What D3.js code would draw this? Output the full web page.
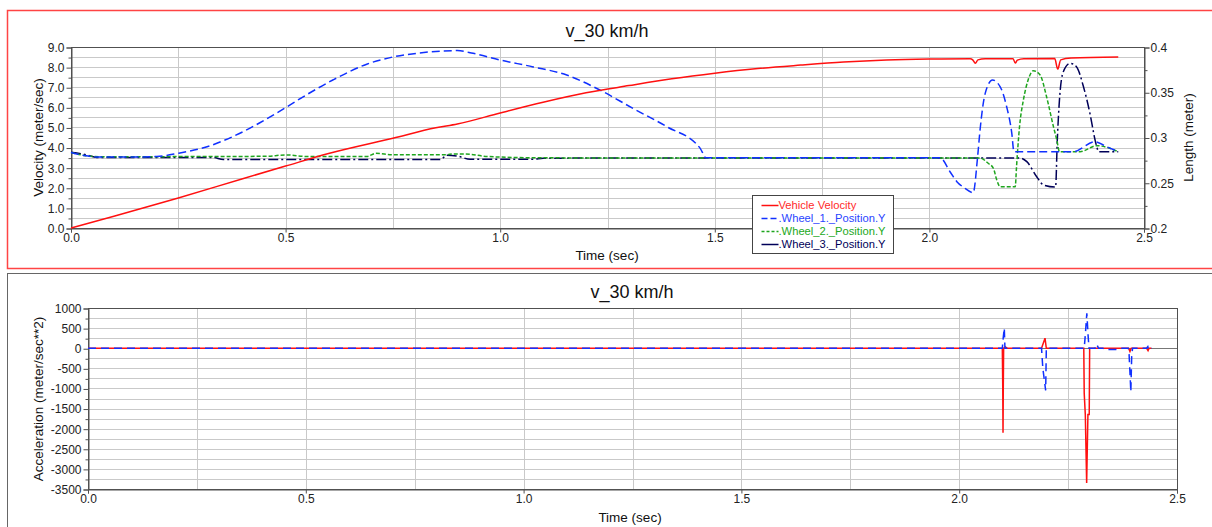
<!DOCTYPE html>
<html>
<head>
<meta charset="utf-8">
<script src="https://cdn.jsdelivr.net/npm/d3@7"></script>
<style>
  body { margin: 0; background: #fff; }
  svg { display: block; font-family: "Liberation Sans", Arial, sans-serif; }
</style>
</head>
<body>
<svg id="chart"></svg>
<script>
// ---- tick labels ----
const timeTicks = [0, 0.5, 1.0, 1.5, 2.0, 2.5];
const velocityTicks = [0, 1, 2, 3, 4, 5, 6, 7, 8, 9];
const lengthTicks = [0.2, 0.25, 0.3, 0.35, 0.4];
const accelTicks = [1000, 500, 0, -500, -1000, -1500, -2000, -2500, -3000, -3500];

// ---- top chart: [time (sec), value] ----
const vehicleVelocity = [
  [0, 0], [0.1, 0.58], [0.25, 1.49], [0.4, 2.45], [0.5, 3.08], [0.6, 3.7], [0.75, 4.46],
  [0.85, 4.98], [0.9, 5.17], [1.0, 5.72], [1.1, 6.25], [1.2, 6.72], [1.3, 7.08], [1.4, 7.42],
  [1.5, 7.7], [1.6, 7.93], [1.7, 8.1], [1.8, 8.25], [1.9, 8.35], [2.0, 8.4], [2.095, 8.42],
  [2.101, 8.36], [2.107, 8.19], [2.113, 8.36], [2.13, 8.42], [2.195, 8.42], [2.2, 8.2],
  [2.205, 8.35], [2.22, 8.42], [2.292, 8.43], [2.299, 7.9], [2.306, 8.36], [2.33, 8.45],
  [2.44, 8.5]
];
const wheel1Y = [
  [0, 0.2835], [0.03, 0.2802], [0.06, 0.2785], [0.15, 0.2785], [0.2, 0.279], [0.25, 0.2826],
  [0.317, 0.2898], [0.377, 0.301], [0.439, 0.316], [0.5, 0.333], [0.534, 0.343], [0.61, 0.3635],
  [0.689, 0.381], [0.75, 0.389], [0.805, 0.393], [0.9, 0.396], [0.937, 0.393], [1.0, 0.3856],
  [1.077, 0.378], [1.155, 0.369], [1.232, 0.3525], [1.31, 0.332], [1.388, 0.312], [1.466, 0.288],
  [1.48, 0.2775], [2.025, 0.2775], [2.048, 0.2622], [2.064, 0.2512], [2.083, 0.2439],
  [2.102, 0.239], [2.112, 0.277], [2.118, 0.3083], [2.13, 0.3488], [2.147, 0.3635],
  [2.165, 0.356], [2.18, 0.334], [2.192, 0.3046], [2.197, 0.2843], [2.335, 0.2843],
  [2.386, 0.2953], [2.413, 0.2898], [2.44, 0.2843]
];
const wheel2Y = [
  [0, 0.2835], [0.03, 0.2802], [0.068, 0.2788], [0.45, 0.2792], [0.503, 0.2807], [0.55, 0.279],
  [0.69, 0.279], [0.71, 0.2825], [0.75, 0.281], [0.875, 0.281], [0.89, 0.2818], [0.92, 0.2818],
  [0.97, 0.279], [1.1, 0.2775], [2.118, 0.2773], [2.137, 0.2715], [2.149, 0.266], [2.157, 0.253],
  [2.165, 0.2456], [2.2, 0.2456], [2.203, 0.2677], [2.21, 0.312], [2.219, 0.3414], [2.23, 0.3635],
  [2.242, 0.3738], [2.258, 0.369], [2.273, 0.345], [2.289, 0.312], [2.297, 0.297], [2.303, 0.2843],
  [2.351, 0.2843], [2.39, 0.291], [2.44, 0.2843]
];
const wheel3Y = [
  [0, 0.2836], [0.037, 0.2807], [0.06, 0.278], [0.33, 0.278], [0.355, 0.2756], [0.6, 0.2757],
  [0.862, 0.2758], [0.875, 0.2805], [0.9, 0.2795], [0.93, 0.2759], [1.077, 0.2759], [1.1, 0.2772],
  [2.211, 0.2773], [2.227, 0.2733], [2.25, 0.2567], [2.266, 0.2475], [2.294, 0.2453],
  [2.298, 0.297], [2.303, 0.3414], [2.312, 0.3727], [2.328, 0.382], [2.343, 0.378],
  [2.359, 0.356], [2.374, 0.3267], [2.386, 0.2972], [2.391, 0.288], [2.394, 0.2843], [2.44, 0.2843]
];

// ---- bottom chart: [time (sec), acceleration] ----
const vehicleAccel = [
  [0, 0], [2.099, 0], [2.1, -1000], [2.1006, -2100], [2.1012, -1000], [2.102, 0], [2.106, 30],
  [2.11, 0], [2.189, 0], [2.197, 250], [2.2, 0], [2.286, 0], [2.287, -1120], [2.2895, -1650],
  [2.2926, -3350], [2.2955, -1650], [2.2985, -1650], [2.2995, 0], [2.389, 0], [2.392, -80],
  [2.395, 0], [2.43, 0], [2.4335, -60], [2.436, 0], [2.441, 0]
];
const wheelAccel = [
  [0, 0], [2.099, 0], [2.101, 250], [2.1035, 500], [2.105, 0], [2.189, 0], [2.192, -500],
  [2.1985, -1050], [2.2, 0], [2.287, 0], [2.29, 400], [2.293, 870], [2.296, 300], [2.298, 0],
  [2.312, 0], [2.3155, 100], [2.32, 0], [2.33, 0], [2.335, -30], [2.36, -30], [2.37, 0],
  [2.388, 0], [2.39, -150], [2.392, -600], [2.394, -1080], [2.396, -200], [2.398, 0],
  [2.43, 0], [2.433, 40], [2.435, -40], [2.437, 0], [2.442, 0]
];

const legendLabels = ["Vehicle Velocity", ".Wheel_1._Position.Y", ".Wheel_2._Position.Y", ".Wheel_3._Position.Y"];

let width = 1212
let height = 527
let red = "#ff1010"
let blue = "#1030ff"
let green = "#1ea51e"
let navy = "#000058"
let gridColor = "#c9c9c9"
let axisColor = "#505050"
let textColor = "#222"

const svg = d3.select("#chart")
  .attr("width", width)
  .attr("height", height)
  .attr("viewBox", [0, 0, width, height]);

// panel frames
svg.append("rect")
  .attr("x", 7.5).attr("y", 10.5).attr("width", width).attr("height", 258)
  .attr("fill", "none").attr("stroke", "#ff4444").attr("stroke-width", 1.5);
svg.append("rect")
  .attr("x", 7.5).attr("y", 273.5).attr("width", width).attr("height", 300)
  .attr("fill", "none").attr("stroke", "#666").attr("stroke-width", 1);

// draws grid, frame and axes of one plot box
function drawFrame(box, x, y, yGrid, yTicks, yMinor, yFormat) {
  const g = svg.append("g");
  // vertical grid every 0.25 sec
  g.append("g").selectAll("line").data(d3.range(0.25, 2.5, 0.25)).join("line")
    .attr("x1", d => Math.round(x(d)) + 0.5).attr("x2", d => Math.round(x(d)) + 0.5)
    .attr("y1", box.top).attr("y2", box.bottom)
    .attr("stroke", gridColor);
  g.append("g").selectAll("line").data(yGrid).join("line")
    .attr("x1", box.left).attr("x2", box.right)
    .attr("y1", d => Math.round(y(d)) + 0.5).attr("y2", d => Math.round(y(d)) + 0.5)
    .attr("stroke", gridColor);
  g.append("rect")
    .attr("x", box.left + 0.5).attr("y", box.top + 0.5)
    .attr("width", box.right - box.left).attr("height", box.bottom - box.top)
    .attr("fill", "none").attr("stroke", axisColor);

  // left axis, minor ticks then labelled ticks
  svg.append("g")
    .attr("transform", `translate(${box.left + 0.5},0.5)`)
    .call(d3.axisLeft(y).tickValues(yMinor).tickSize(3).tickFormat(""))
    .call(a => a.select(".domain").remove())
    .call(a => a.selectAll("line").attr("stroke", axisColor));
  svg.append("g")
    .attr("transform", `translate(${box.left + 0.5},0.5)`)
    .call(d3.axisLeft(y).tickValues(yTicks).tickSize(5).tickPadding(2).tickFormat(yFormat))
    .call(a => a.select(".domain").attr("stroke", axisColor))
    .call(a => a.selectAll("line").attr("stroke", axisColor))
    .call(a => a.selectAll("text").attr("fill", textColor)
      .style("font-size", "12px").style("font-family", "Liberation Sans, Arial, sans-serif"));

  svg.append("g")
    .attr("transform", `translate(0,${box.bottom + 0.5})`)
    .call(d3.axisBottom(x).tickValues(timeTicks).tickSize(4).tickPadding(1).tickFormat(d3.format(".1f")))
    .call(a => a.select(".domain").attr("stroke", axisColor))
    .call(a => a.selectAll("line").attr("stroke", axisColor))
    .call(a => a.selectAll("text").attr("fill", textColor)
      .style("font-size", "12px").style("font-family", "Liberation Sans, Arial, sans-serif"));
}

function addText(x, y, txt, size, rotate) {
  svg.append("text")
    .attr("transform", `translate(${x},${y})` + (rotate ? " rotate(-90)" : ""))
    .attr("text-anchor", "middle")
    .attr("fill", "#111")
    .style("font-size", size + "px")
    .text(txt);
}

// ---------------- top chart ----------------
const topBox = {left: 71, right: 1144, top: 47, bottom: 228};
const xTop = d3.scaleLinear([0, 2.5], [topBox.left, topBox.right]);
const yVel = d3.scaleLinear([0, 9], [topBox.bottom, topBox.top]);
const yLen = d3.scaleLinear([0.2, 0.4], [topBox.bottom, topBox.top]);

drawFrame(topBox, xTop, yVel, d3.range(0.5, 9, 0.5), velocityTicks,
  d3.range(0.5, 9, 1), d3.format(".1f"));

// right axis (length)
svg.append("g")
  .attr("transform", `translate(${topBox.right + 0.5},0.5)`)
  .call(d3.axisRight(yLen).tickValues(d3.range(0.225, 0.4, 0.05)).tickSize(3).tickFormat(""))
  .call(a => a.select(".domain").remove())
  .call(a => a.selectAll("line").attr("stroke", axisColor));
svg.append("g")
  .attr("transform", `translate(${topBox.right + 0.5},0.5)`)
  .call(d3.axisRight(yLen).tickValues(lengthTicks).tickSize(5).tickPadding(1).tickFormat(d => String(d)))
  .call(a => a.select(".domain").attr("stroke", axisColor))
  .call(a => a.selectAll("line").attr("stroke", axisColor))
  .call(a => a.selectAll("text").attr("fill", textColor)
    .style("font-size", "12px").style("font-family", "Liberation Sans, Arial, sans-serif"));

addText(607, 37, "v_30 km/h", 18);
addText(607, 260, "Time (sec)", 13.5);
addText(43, 137.5, "Velocity (meter/sec)", 13.5, true);
addText(1193, 137.5, "Length (meter)", 13.5, true);

// smooth curves like the source plot
const lineVel = d3.line().curve(d3.curveMonotoneX).x(d => xTop(d[0])).y(d => yVel(d[1]));
const lineLen = d3.line().curve(d3.curveMonotoneX).x(d => xTop(d[0])).y(d => yLen(d[1]));

const topSeries = [
  {data: wheel3Y, line: lineLen, color: navy, dash: "10,3,2,3"},
  {data: wheel2Y, line: lineLen, color: green, dash: "4,2"},
  {data: wheel1Y, line: lineLen, color: blue, dash: "8,4"},
  {data: vehicleVelocity, line: lineVel, color: red, dash: null}
];
svg.append("g").selectAll("path").data(topSeries).join("path")
  .attr("fill", "none")
  .attr("stroke", d => d.color)
  .attr("stroke-width", 1.5)
  .attr("stroke-dasharray", d => d.dash)
  .attr("d", d => d.line(d.data));

// legend
const legendItems = [
  {label: legendLabels[0], color: red, text: "#ff2a2a", dash: null},
  {label: legendLabels[1], color: blue, text: "#2a44ff", dash: "6,3"},
  {label: legendLabels[2], color: green, text: "#22a822", dash: "3,2"},
  {label: legendLabels[3], color: navy, text: "#000058", dash: null}
];
const legend = svg.append("g").attr("transform", "translate(752.5,195.5)");
legend.append("rect")
  .attr("width", 141).attr("height", 58)
  .attr("fill", "#fff").attr("stroke", "#444");
const li = legend.selectAll("g").data(legendItems).join("g")
  .attr("transform", (d, i) => `translate(0,${10 + i * 13})`);
li.append("line")
  .attr("x1", 9).attr("x2", 26)
  .attr("stroke", d => d.color).attr("stroke-width", 1.5)
  .attr("stroke-dasharray", d => d.dash);
li.append("text")
  .attr("x", 26).attr("dy", "0.35em")
  .attr("fill", d => d.text)
  .style("font-size", "11.2px")
  .text(d => d.label);

// ---------------- bottom chart ----------------
const botBox = {left: 88, right: 1177, top: 308, bottom: 489};
const xBot = d3.scaleLinear([0, 2.5], [botBox.left, botBox.right]);
const yAcc = d3.scaleLinear([-3500, 1000], [botBox.bottom, botBox.top]);

drawFrame(botBox, xBot, yAcc, d3.range(-3250, 1000, 250), accelTicks,
  d3.range(-3250, 1000, 500), d => String(d));

// zero line
svg.append("line")
  .attr("x1", botBox.left).attr("x2", botBox.right)
  .attr("y1", Math.round(yAcc(0)) + 0.5).attr("y2", Math.round(yAcc(0)) + 0.5)
  .attr("stroke", "#777");

addText(632, 298, "v_30 km/h", 18);
addText(630, 522, "Time (sec)", 13.5);
addText(43, 399, "Acceleration (meter/sec**2)", 13.5, true);

const lineAcc = d3.line().x(d => xBot(d[0])).y(d => yAcc(d[1]));
svg.append("path")
  .attr("fill", "none").attr("stroke", red).attr("stroke-width", 1.5)
  .attr("d", lineAcc(vehicleAccel));
svg.append("path")
  .attr("fill", "none").attr("stroke", blue).attr("stroke-width", 1.5)
  .attr("stroke-dasharray", "8,5")
  .attr("d", lineAcc(wheelAccel));
</script>
</body>
</html>
